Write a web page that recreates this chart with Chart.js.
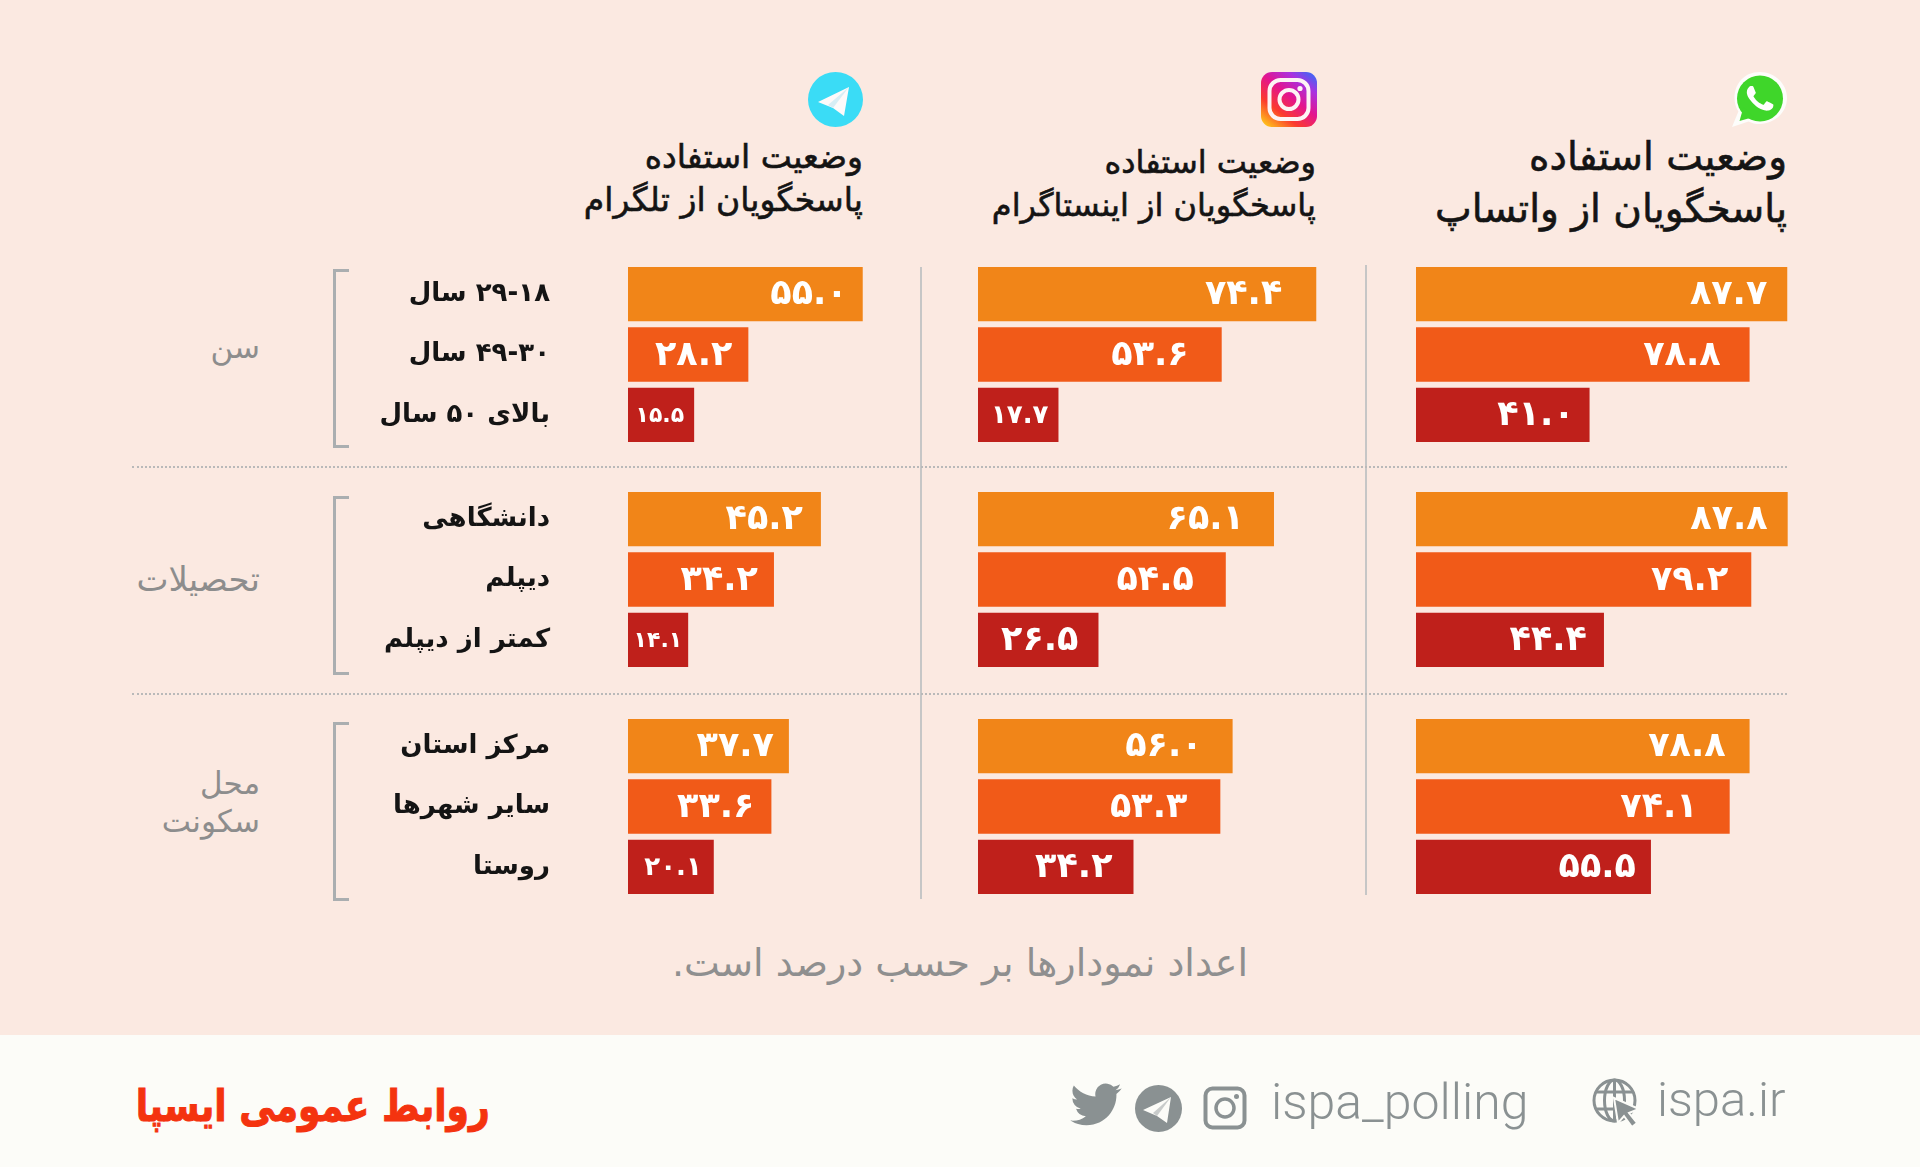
<!DOCTYPE html>
<html lang="fa">
<head>
<meta charset="utf-8">
<title>وضعیت استفاده پاسخگویان از پیام رسان ها</title>
<script src="https://cdn.jsdelivr.net/npm/chart.js@4"></script>
<style>
html, body { margin: 0; padding: 0; }
body { width: 1920px; height: 1167px; position: relative; overflow: hidden; background: #fbe9e1; font-family: "DejaVu Sans", sans-serif; }
canvas { position: absolute; direction: rtl; }
.abs { position: absolute; }
.rtl { direction: rtl; text-align: right; white-space: nowrap; }
.title { color: #141414; -webkit-text-stroke: 0.6px #141414; }
.group { color: #8d8d8d; font-size: 31px; line-height: 38px; }
.bracket { position: absolute; left: 333px; width: 13px; height: 173px; border: 3px solid #aaaeb0; border-right: none; }
.vline { position: absolute; width: 2px; background: #c6c6c6; }
.hline { position: absolute; left: 132px; width: 1655px; border-top: 2px dotted #b9b9b9; }
#footer { position: absolute; left: 0; top: 1035px; width: 1920px; height: 132px; background: #fcfcf8; }
.foot { position: absolute; color: #8a9192; font-family: Roboto, sans-serif; font-weight: 300; white-space: nowrap; }
</style>
</head>
<body>

<!-- header icons -->
<svg class="abs" style="left:1732px;top:72px" width="55" height="55" viewBox="0 0 55 55">
  <path d="M27.5 0C12.6 0 2.5 11.5 2.5 26c0 5 1.4 9.6 3.9 13.5L0 55l16.5-5.6c3.3 1.6 7 2.6 11 2.6C42.400 52 55 40.500 55 26S42.400 0 27.500 0z" fill="#fdfdfb"/>
  <circle cx="28" cy="26.500" r="23" fill="#3fd62a"/>
  <path d="M7.500 49l4-14 10 10z" fill="#3fd62a"/>
  <g transform="translate(1.600,0) scale(2.200)">
    <path fill="#fff" d="M17.472 14.382c-.297-.149-1.758-.867-2.03-.967-.273-.099-.471-.148-.67.15-.197.297-.767.966-.94 1.164-.173.199-.347.223-.644.075-.297-.15-1.255-.463-2.39-1.475-.883-.788-1.48-1.761-1.653-2.059-.173-.297-.018-.458.13-.606.134-.133.298-.347.446-.52.149-.174.198-.298.298-.497.099-.198.05-.371-.025-.52-.075-.149-.669-1.612-.916-2.207-.242-.579-.487-.5-.669-.51-.173-.008-.371-.01-.57-.01-.198 0-.52.074-.792.372-.272.297-1.04 1.016-1.04 2.479 0 1.462 1.065 2.875 1.213 3.074.149.198 2.096 3.2 5.077 4.487.709.306 1.262.489 1.694.625.712.227 1.36.195 1.871.118.571-.085 1.758-.719 2.006-1.413.248-.694.248-1.289.173-1.413-.074-.124-.272-.198-.57-.347z"/>
  </g>
</svg>
<svg class="abs" style="left:1261px;top:72px" width="56" height="55" viewBox="0 0 56 55">
  <defs>
    <linearGradient id="igGrad" x1="0.1" y1="1" x2="0.9" y2="0">
      <stop offset="0" stop-color="#ffc61a"/>
      <stop offset="0.28" stop-color="#fb3a2e"/>
      <stop offset="0.55" stop-color="#e3148f"/>
      <stop offset="0.8" stop-color="#a932e0"/>
      <stop offset="1" stop-color="#3d68f5"/>
    </linearGradient>
  </defs>
  <rect width="56" height="55" rx="11" fill="url(#igGrad)"/>
  <rect x="8.500" y="8" width="39" height="39" rx="11" fill="none" stroke="#fdf4f4" stroke-width="4"/>
  <circle cx="28" cy="27.500" r="9.500" fill="none" stroke="#fdf4f4" stroke-width="4"/>
  <circle cx="39" cy="16.500" r="2.600" fill="#fdf4f4"/>
</svg>
<svg class="abs" style="left:808px;top:72px" width="55" height="55" viewBox="0 0 55 55">
  <circle cx="27.500" cy="27.500" r="27.500" fill="#3adcf6"/>
  <path d="M10 30 L41 15 L36 44 L25 36 Z" fill="#fdfafa"/>
  <path d="M25 36 L41 15 L20 33 Z" fill="#d7eef5"/>
</svg>

<!-- column titles -->
<div class="abs rtl title" style="right:133px;top:131px;font-size:39px;line-height:52px">وضعیت استفاده<br>پاسخگویان از واتساپ</div>
<div class="abs rtl title" style="right:604px;top:141px;font-size:32px;line-height:43px">وضعیت استفاده<br>پاسخگویان از اینستاگرام</div>
<div class="abs rtl title" style="right:1057px;top:135px;font-size:33px;line-height:43px">وضعیت استفاده<br>پاسخگویان از تلگرام</div>

<!-- rules and brackets -->
<div class="vline" style="left:920px;top:267px;height:632px"></div>
<div class="vline" style="left:1365px;top:265px;height:630px"></div>
<div class="hline" style="top:466px"></div>
<div class="hline" style="top:693px"></div>
<div class="bracket" style="top:269px"></div>
<div class="bracket" style="top:496px"></div>
<div class="bracket" style="top:722px"></div>

<!-- group names -->
<div class="abs rtl group" style="right:1660px;top:328px">سن</div>
<div class="abs rtl group" style="right:1660px;top:560px;font-size:34px">تحصیلات</div>
<div class="abs rtl group" style="right:1660px;top:764px">محل<br>سکونت</div>

<canvas id="whatsappAge"></canvas>
<canvas id="whatsappEducation"></canvas>
<canvas id="whatsappResidence"></canvas>
<canvas id="instagramAge"></canvas>
<canvas id="instagramEducation"></canvas>
<canvas id="instagramResidence"></canvas>
<canvas id="telegramAge"></canvas>
<canvas id="telegramEducation"></canvas>
<canvas id="telegramResidence"></canvas>

<div class="abs rtl" style="left:0;width:1920px;top:941px;text-align:center;color:#8f8f8f;font-size:38px">اعداد نمودارها بر حسب درصد است.</div>

<!-- footer -->
<div id="footer">
  <div class="abs rtl" style="right:1430px;top:45px;color:#f4330f;font-size:44px;font-weight:bold;-webkit-text-stroke:1px #f4330f;transform:scaleX(0.82);transform-origin:right">روابط عمومی ایسپا</div>
  <svg class="abs" style="left:1070px;top:48px" width="52" height="46" viewBox="0 0 24 21.500">
    <path fill="#8a9192" transform="translate(0,-2)" d="M23.953 4.57a10 10 0 01-2.825.775 4.958 4.958 0 002.163-2.723c-.951.555-2.005.959-3.127 1.184a4.92 4.92 0 00-8.384 4.482C7.69 8.095 4.067 6.13 1.64 3.162a4.822 4.822 0 00-.666 2.475c0 1.71.87 3.213 2.188 4.096a4.904 4.904 0 01-2.228-.616v.06a4.923 4.923 0 003.946 4.827 4.996 4.996 0 01-2.212.085 4.936 4.936 0 004.604 3.417 9.867 9.867 0 01-6.102 2.105c-.39 0-.779-.023-1.17-.067a13.995 13.995 0 007.557 2.209c9.053 0 13.998-7.496 13.998-13.985 0-.21 0-.42-.015-.63A9.935 9.935 0 0024 4.59z"/>
  </svg>
  <svg class="abs" style="left:1135px;top:50px" width="47" height="47" viewBox="0 0 47 47">
    <circle cx="23.500" cy="23.500" r="23.500" fill="#8a9192"/>
    <path d="M8 25 L36 12 L32 38 L22 31 Z" fill="#fcfcf8"/>
    <path d="M22 31 L36 12 L18 28 Z" fill="#8a9192" opacity="0.45"/>
  </svg>
  <svg class="abs" style="left:1203px;top:51px" width="44" height="44" viewBox="0 0 44 44">
    <rect x="2.500" y="2.500" width="39" height="39" rx="7" fill="none" stroke="#8a9192" stroke-width="4"/>
    <circle cx="22" cy="22" r="9" fill="none" stroke="#8a9192" stroke-width="3.500"/>
    <circle cx="33.500" cy="10.500" r="2.500" fill="#8a9192"/>
  </svg>
  <div class="foot" style="left:1271px;top:38px;font-size:50px">ispa_polling</div>
  <svg class="abs" style="left:1592px;top:43px" width="50" height="50" viewBox="0 0 50 50">
    <g fill="none" stroke="#8a9192" stroke-width="3">
      <circle cx="22.500" cy="22.500" r="20.500"/>
      <ellipse cx="22.500" cy="22.500" rx="10" ry="20.500"/>
      <path d="M22.500 2v41M4 14h37M4 31h37"/>
    </g>
    <path d="M22 20 L47 31 L37 35 L45 45 L40 49 L32 38 L26 45 Z" fill="#8a9192" stroke="#fcfcf8" stroke-width="2"/>
  </svg>
  <div class="foot" style="left:1657px;top:36px;font-size:49px">ispa.ir</div>
</div>

<script>
const rowLabels = [
    '۲۹-۱۸ سال', '۴۹-۳۰ سال', 'بالای ۵۰ سال',
    'دانشگاهی', 'دیپلم', 'کمتر از دیپلم',
    'مرکز استان', 'سایر شهرها', 'روستا'
];
const whatsappValues = [87.7, 78.8, 41.0, 87.8, 79.2, 44.4, 78.8, 74.1, 55.5];
const instagramValues = [74.4, 53.6, 17.7, 65.1, 54.5, 26.5, 56.0, 53.3, 34.2];
const telegramValues = [55.0, 28.2, 15.5, 45.2, 34.2, 14.1, 37.7, 33.6, 20.1];

const rowColors = ['#f18518', '#f15a18', '#bf201b'];
const groupNames = ['Age', 'Education', 'Residence'];
const groupTops = [264, 489, 716];
const persianDigits = '۰۱۲۳۴۵۶۷۸۹';

// how far each number sits from the end of its bar, px
const whatsappInsets = [20, 29, 15, 20, 23, 17, 24, 32, 15];
const instagramInsets = [34, 33, 10, 30, 32, 20, 30, 33, 21];
const telegramInsets = [15, 16, 10, 18, 16, 6, 15, 17, 12];

function toPersian(value) {
    return value.toFixed(1).replace(/\d/g, d => persianDigits[d]);
}

function labelFontSize(value) {
    if (value < 16) return 22;
    if (value < 21) return 26;
    return 35;
}

// Chart.js has no built-in bar labels and the datalabels plugin is not available here
const valueLabels = {
    id: 'valueLabels',
    afterDatasetsDraw(chart, args, opts) {
        const ctx = chart.ctx;
        const dataset = chart.data.datasets[0];
        chart.getDatasetMeta(0).data.forEach((bar, i) => {
            ctx.save();
            ctx.fillStyle = '#fff';
            ctx.textAlign = 'right';
            ctx.textBaseline = 'middle';
            ctx.font = 'bold ' + labelFontSize(dataset.data[i]) + 'px "DejaVu Sans"';
            ctx.fillText(toPersian(dataset.data[i]), bar.x - opts.insets[i], bar.y + 1);
            ctx.restore();
        });
    }
};

function drawGroup(id, top, left, plotWidth, maxValue, labels, values, insets, showLabels) {
    const canvas = document.getElementById(id);
    const axisWidth = showLabels ? 328 : 0;
    canvas.width = plotWidth + axisWidth;
    canvas.height = 181;
    canvas.style.left = left + 'px';
    canvas.style.top = top + 'px';
    new Chart(canvas.getContext('2d'), {
        type: 'bar',
        data: {
            labels: labels,
            datasets: [{ data: values, backgroundColor: rowColors, barPercentage: 0.9, categoryPercentage: 1 }]
        },
        plugins: [valueLabels],
        options: {
            indexAxis: 'y',
            responsive: false,
            animation: false,
            layout: { padding: 0 },
            plugins: {
                legend: { display: false },
                tooltip: { enabled: false },
                valueLabels: { insets: insets }
            },
            scales: {
                x: { display: false, min: 0, max: maxValue },
                y: {
                    display: showLabels,
                    // tick padding would also eat into the height, so the gap comes from an invisible tick mark
                    grid: { drawOnChartArea: false, drawTicks: true, tickLength: 78, tickColor: 'transparent' },
                    border: { display: false },
                    afterFit: scale => {
                        if (!showLabels) return;
                        scale.width = axisWidth;
                        scale.paddingTop = 0;
                        scale.paddingBottom = 0;
                    },
                    ticks: {
                        padding: 0,
                        color: '#141414',
                        font: { family: '"DejaVu Sans"', size: 26, weight: 'bold' }
                    }
                }
            }
        }
    });
}

groupTops.forEach((top, g) => {
    const from = g * 3;
    const to = from + 3;
    const labels = rowLabels.slice(from, to);
    drawGroup('whatsapp' + groupNames[g], top, 1416, 381, 90, labels, whatsappValues.slice(from, to), whatsappInsets.slice(from, to), false);
    drawGroup('instagram' + groupNames[g], top, 978, 341, 75, labels, instagramValues.slice(from, to), instagramInsets.slice(from, to), false);
    drawGroup('telegram' + groupNames[g], top, 300, 239, 56, labels, telegramValues.slice(from, to), telegramInsets.slice(from, to), true);
});
</script>
</body>
</html>
